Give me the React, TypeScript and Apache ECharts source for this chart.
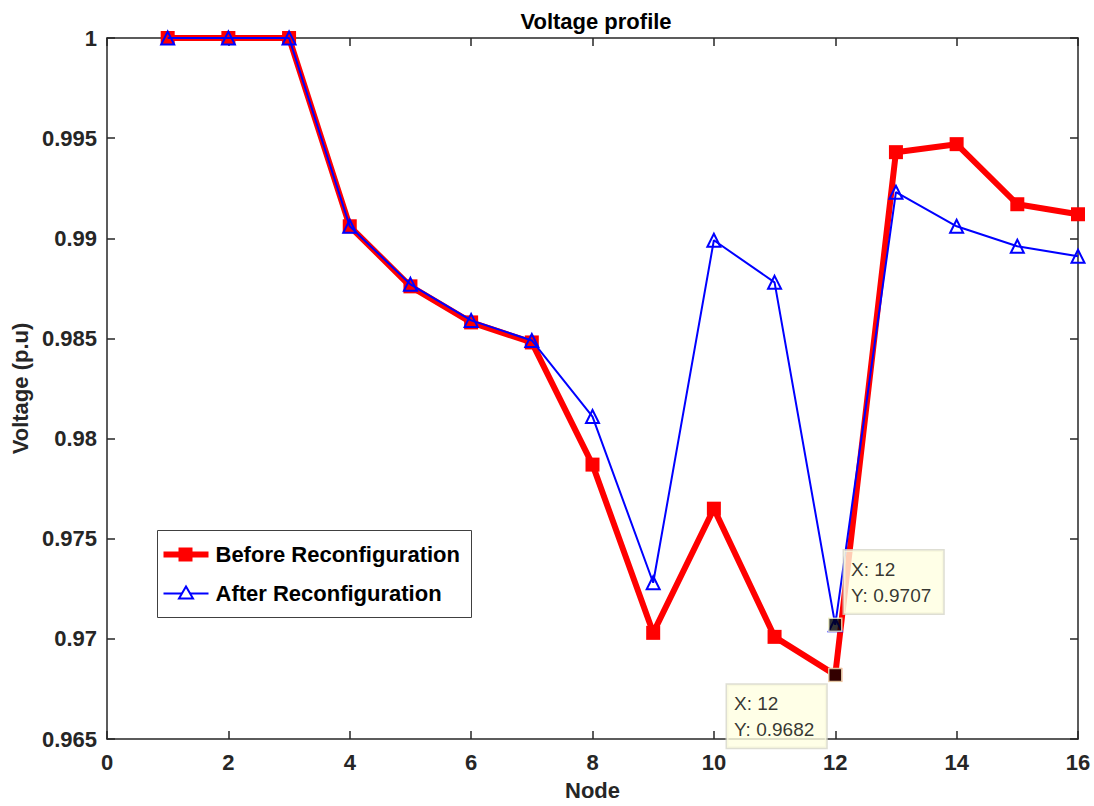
import React, { useEffect, useRef } from "react";
import * as echarts from "echarts";

const nodes = [1, 2, 3, 4, 5, 6, 7, 8, 9, 10, 11, 12, 13, 14, 15, 16];
const beforeValues = [1.0, 1.0, 1.0, 0.9906, 0.9876, 0.9858, 0.9848, 0.9787, 0.9703, 0.9765, 0.9701, 0.9682, 0.9943, 0.9947, 0.9917, 0.9912];
const afterValues = [1.0, 1.0, 1.0, 0.9906, 0.9877, 0.9859, 0.9849, 0.9811, 0.9728, 0.9899, 0.9878, 0.9707, 0.9923, 0.9906, 0.9896, 0.9891];
const seriesNames = ["Before Reconfiguration", "After Reconfiguration"];
const tipNode = 12;

const FONT = "Liberation Sans, Arial, Helvetica, sans-serif";
const AX = "#262626";

export default function App() {
  const ref = useRef<HTMLDivElement>(null);
  useEffect(() => {
    if (!ref.current) return;
    const chart = echarts.init(ref.current, null, { renderer: "svg" });
    const idx = nodes.indexOf(tipNode);
    const baseAxis = {
      type: "value" as const,
      axisLine: { show: true, onZero: false, lineStyle: { color: AX, width: 1.5 } },
      axisTick: { show: true, inside: true, length: 8, lineStyle: { color: AX, width: 1.5 } },
      splitLine: { show: false },
    };
    const yFmt = (v: number) => parseFloat(v.toFixed(3)).toString();
    chart.setOption({
      animation: false,
      backgroundColor: "#ffffff",
      textStyle: { fontFamily: FONT },
      title: {
        text: "Voltage profile",
        left: 591,
        textAlign: "center",
        top: 5,
        textStyle: { fontFamily: FONT, fontWeight: "bold", fontSize: 22, color: "#000" },
      },
      grid: { left: 107, right: 16, top: 38, bottom: 61, containLabel: false },
      xAxis: [
        {
          ...baseAxis,
          min: 0,
          max: 16,
          interval: 2,
          position: "bottom",
          axisLabel: { color: AX, fontFamily: FONT, fontWeight: "bold", fontSize: 22, margin: 12 },
          name: "Node",
          nameLocation: "middle",
          nameGap: 40,
          nameTextStyle: { color: AX, fontFamily: FONT, fontWeight: "bold", fontSize: 22 },
        },
        {
          ...baseAxis,
          min: 0,
          max: 16,
          interval: 2,
          position: "top",
          axisLabel: { show: false },
        },
      ],
      yAxis: [
        {
          ...baseAxis,
          min: 0.965,
          max: 1,
          interval: 0.005,
          position: "left",
          axisLabel: { color: AX, fontFamily: FONT, fontWeight: "bold", fontSize: 22, margin: 10, formatter: yFmt },
          name: "Voltage (p.u)",
          nameLocation: "middle",
          nameGap: 76,
          nameTextStyle: { color: AX, fontFamily: FONT, fontWeight: "bold", fontSize: 22 },
        },
        {
          ...baseAxis,
          min: 0.965,
          max: 1,
          interval: 0.005,
          position: "right",
          axisLabel: { show: false },
        },
      ],
      series: [
        {
          name: seriesNames[0],
          type: "line",
          data: nodes.map((n, i) => [n, beforeValues[i]]),
          symbol: "rect",
          symbolSize: 14,
          itemStyle: { color: "#ff0000" },
          lineStyle: { color: "#ff0000", width: 6 },
          z: 2,
        },
        {
          name: seriesNames[1],
          type: "line",
          data: nodes.map((n, i) => [n, afterValues[i]]),
          symbol: "triangle",
          symbolSize: 13,
          itemStyle: { color: "rgba(0,0,0,0)", borderColor: "#0000ff", borderWidth: 2 },
          lineStyle: { color: "#0000ff", width: 2 },
          z: 3,
        },
        {
          type: "scatter",
          symbol: "rect",
          symbolSize: 13,
          itemStyle: { color: "#000", borderColor: "#f2f2c8", borderWidth: 1.5 },
          z: 5,
          data: [
            {
              value: [tipNode, afterValues[idx]],
              label: {
                show: true,
                position: [16, -67],
                formatter: `X: ${tipNode}\nY: ${afterValues[idx]}`,
              },
            },
            {
              value: [tipNode, beforeValues[idx]],
              label: {
                show: true,
                position: [-101, 17],
                formatter: `X: ${tipNode}\nY: ${beforeValues[idx]}`,
              },
            },
          ],
          label: {
            color: "#000",
            fontFamily: FONT,
            fontSize: 19,
            lineHeight: 26,
            backgroundColor: "#ffffe1",
            borderColor: "#d6d6c8",
            borderWidth: 1.5,
            padding: [6, 12, 5, 7],
            align: "left",
            verticalAlign: "top",
          },
        },
      ],
      graphic: [
        {
          type: "group",
          left: 157,
          top: 530,
          z: 10,
          children: [
            { type: "rect", shape: { x: 0, y: 0, width: 314, height: 87 }, style: { fill: "#fff", stroke: "#404040", lineWidth: 1 } },
            { type: "line", shape: { x1: 6, y1: 24, x2: 51, y2: 24 }, style: { stroke: "#ff0000", lineWidth: 6 } },
            { type: "rect", shape: { x: 21, y: 17, width: 14, height: 14 }, style: { fill: "#ff0000" } },
            {
              type: "text",
              x: 58,
              y: 24,
              style: { text: seriesNames[0], fill: "#000", font: `bold 22px ${FONT}`, textVerticalAlign: "middle" },
            },
            { type: "line", shape: { x1: 6, y1: 63, x2: 51, y2: 63 }, style: { stroke: "#0000ff", lineWidth: 2 } },
            { type: "polygon", shape: { points: [[28.5, 56], [21.5, 68], [35.5, 68]] }, style: { fill: "#fff", stroke: "#0000ff", lineWidth: 2 } },
            {
              type: "text",
              x: 58,
              y: 63,
              style: { text: seriesNames[1], fill: "#000", font: `bold 22px ${FONT}`, textVerticalAlign: "middle" },
            },
          ],
        },
      ],
    });
    return () => chart.dispose();
  }, []);
  return <div ref={ref} style={{ position: "absolute", left: 0, top: 0, width: 1094, height: 806 }} />;
}
